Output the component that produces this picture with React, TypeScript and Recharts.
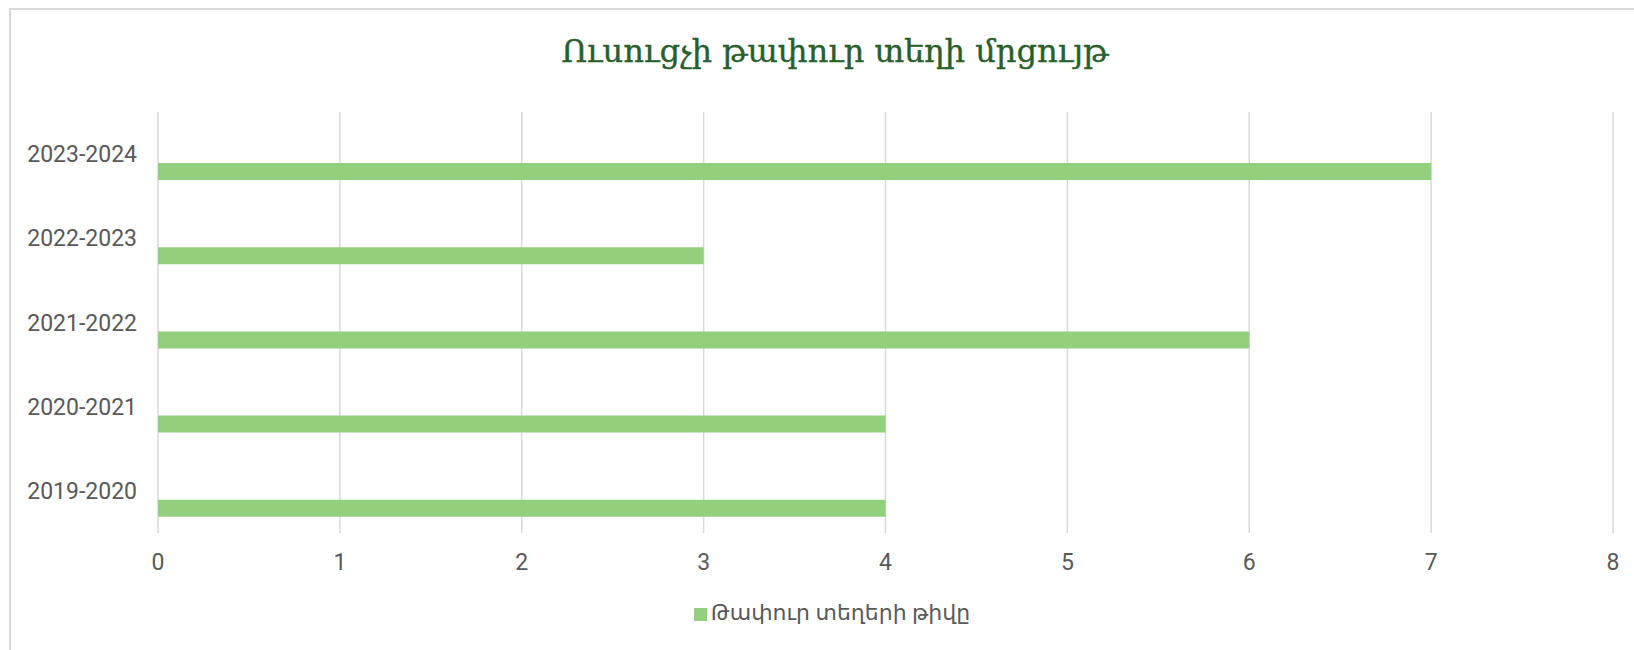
import { BarChart, Bar, XAxis, YAxis, CartesianGrid, Legend } from "recharts";

// school years, oldest first (drawn bottom to top)
const periods = ["2019-2020", "2020-2021", "2021-2022", "2022-2023", "2023-2024"];
const vacancies = [4, 4, 6, 3, 7];
const xTicks = [0, 1, 2, 3, 4, 5, 6, 7, 8];

const title = "Ուսուցչի թափուր տեղի մրցույթ";
const seriesName = "Թափուր տեղերի թիվը";

const data = periods.map((period, i) => ({ period, vacancies: vacancies[i] }));

const textFont = "Roboto, 'DejaVu Sans', sans-serif";
const gray = "#595959";

export default function App() {
  return (
    <div style={{ position: "absolute", left: 0, top: 0, width: 1634, height: 650, overflow: "hidden", background: "#fff" }}>
      <div
        style={{
          position: "absolute",
          left: 9,
          top: 8,
          width: 1700,
          height: 700,
          borderLeft: "2px solid #d9d9d9",
          borderTop: "2px solid #d9d9d9",
        }}
      />
      <div
        style={{
          position: "absolute",
          left: 10,
          width: 1650,
          top: 32,
          textAlign: "center",
          fontFamily: "'DejaVu Serif', serif",
          fontSize: 32,
          color: "#2A5E2C",
          whiteSpace: "nowrap",
          WebkitTextStroke: "0.4px #2A5E2C",
        }}
      >
        {title}
      </div>
      <BarChart
        width={1634}
        height={650}
        data={data}
        layout="vertical"
        margin={{ top: 112, right: 21, bottom: 67, left: 0 }}
        barGap={0}
        style={{ position: "absolute", left: 0, top: 0 }}
      >
        <CartesianGrid horizontal={false} stroke="#d9d9d9" strokeWidth={1.5} />
        <XAxis
          type="number"
          domain={[0, 8]}
          ticks={xTicks}
          axisLine={false}
          tickLine={false}
          tickSize={6}
          tickMargin={15}
          height={50}
          tick={{ fill: gray, fontSize: 23, fontFamily: textFont }}
        />
        <YAxis
          type="category"
          dataKey="period"
          reversed
          width={158}
          axisLine={false}
          tickLine={false}
          tickSize={6}
          tickMargin={15}
          tick={{ fill: gray, fontSize: 23, fontFamily: textFont }}
        />
        <Legend
          layout="horizontal"
          verticalAlign="middle"
          align="center"
          iconType="square"
          iconSize={13}
          wrapperStyle={{ top: 600, left: 12, width: 1650, fontFamily: textFont, fontSize: 22 }}
          formatter={(value) => <span style={{ color: gray }}>{value}</span>}
        />
        <Bar dataKey="padA" barSize={17} legendType="none" isAnimationActive={false} />
        <Bar dataKey="padB" barSize={17} legendType="none" isAnimationActive={false} />
        <Bar dataKey="vacancies" name={seriesName} barSize={17} fill="#93D07E" isAnimationActive={false} />
      </BarChart>
    </div>
  );
}
